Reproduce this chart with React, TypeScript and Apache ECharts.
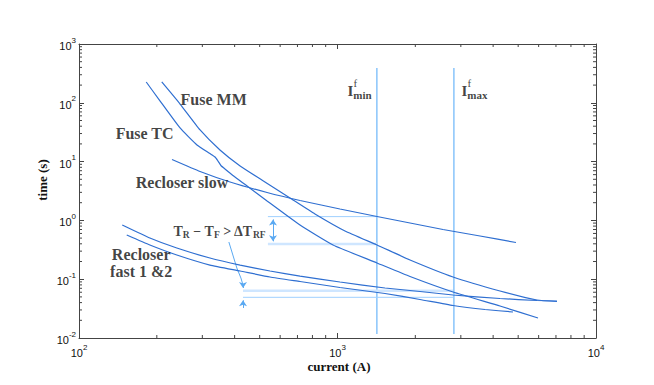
import React, { useEffect, useRef } from "react";
import * as echarts from "echarts";

const X_MIN = 100;
const X_MAX = 10000;
const Y_MIN = 0.01;
const Y_MAX = 1000;

// curves: [current (A), time (s)]
const fuseMM = [[209, 226], [246, 95.4], [294, 34.5], [351, 15.75], [420, 8.42], [524, 4.5], [655, 2.4], [818, 1.285], [1069, 0.66], [1422, 0.382], [1908, 0.212], [2798, 0.109], [4252, 0.063], [5913, 0.0443], [7065, 0.0418]];
const fuseTC = [[182, 226], [206, 107], [246, 37.3], [286, 19.2], [321, 13.7], [336, 11.97], [345, 10.2], [354, 8.58], [367, 7.48], [394, 5.8], [447, 3.85], [534, 2.14], [716, 0.835], [961, 0.382], [1422, 0.189], [1908, 0.111], [2798, 0.0606], [4252, 0.035], [5965, 0.0219]];
const recloserSlow = [[229, 10.85], [294, 6.79], [384, 4.5], [534, 2.98], [716, 2.18], [1022, 1.563], [1422, 1.165], [1908, 0.903], [2559, 0.7], [3559, 0.543], [4903, 0.421]];
const recloserFast1 = [[147, 0.835], [188, 0.502], [239, 0.339], [321, 0.229], [420, 0.174], [548, 0.138], [716, 0.113], [1022, 0.0896], [1527, 0.0709], [2085, 0.0618], [2798, 0.0539], [4252, 0.047], [5913, 0.0434], [7065, 0.0426]];
const recloserFast2 = [[153, 0.565], [188, 0.382], [239, 0.258], [321, 0.174], [420, 0.138], [548, 0.109], [716, 0.0914], [1022, 0.0723], [1527, 0.0571], [2085, 0.0452], [2798, 0.0357], [3721, 0.0305], [4774, 0.0277]];

// annotations
const iMin = 1420;
const iMax = 2820;
const iLineSpan = [391, 0.0117];
const upperGapX = [538, 1422];
const upperGapT = [1.16, 0.397];
const upperArrowX = 563;
const upperArrowT = [1.04, 0.44];
const lowerGapX = [431, 2798];
const lowerGapT = [0.0637, 0.0492];
const lowerArrowX = 431;
const leader = [[380, 0.429], [408, 0.155], [423, 0.1048], [431, 0.0797]];
const downArrowT = [0.0797, 0.071];
const upArrowT = [0.0324, 0.0438];

// label anchors
const fuseMMLabel = [246, 111.6];
const fuseTCLabel = [138, 29.5];
const slowLabel = [165, 4.33];
const fastLabel = [174, 0.185];
const gapLabel = [231, 0.66];
const iMinLabel = [1088, 158.7];
const iMinSup = [1148, 217];
const iMaxLabel = [3005, 158.7];
const iMaxSup = [3170, 217];

const xMinorTicks = [200, 300, 400, 500, 600, 700, 800, 900, 2000, 3000, 4000, 5000, 6000, 7000, 8000, 9000];
const yMinorTicks = [0.02, 0.03, 0.04, 0.05, 0.06, 0.07, 0.08, 0.09, 0.2, 0.3, 0.4, 0.5, 0.6, 0.7, 0.8, 0.9, 2, 3, 4, 5, 6, 7, 8, 9, 20, 30, 40, 50, 60, 70, 80, 90, 200, 300, 400, 500, 600, 700, 800, 900];

const SERIF = "Liberation Serif, serif";
const SANS = "Liberation Sans, sans-serif";
const CURVE = "#2f6fd1";
const VLINE = "#88c4fb";
const HLINE = "#9fd0ff";
const HBAND = "#cfe6ff";
const ARROW = "#5aa9f2";
const AXIS = "#444";
const TEXT = "#111";

const expFormatter = (v: number) => `{b|10}{e|${Math.round(Math.log10(v))}}`;
const tickRich = {
  b: { fontSize: 11, fontFamily: SANS, color: TEXT, lineHeight: 20 },
  e: { fontSize: 8, fontFamily: SANS, color: TEXT, verticalAlign: "top", lineHeight: 8 },
};

const curve = (name: string, data: number[][]) => ({
  type: "line",
  name,
  data,
  showSymbol: false,
  symbol: "none",
  smooth: 0.15,
  lineStyle: { color: CURVE, width: 1.2 },
  silent: true,
  z: 4,
});

const seg = (data: number[][], color: string, width: number) => ({
  type: "line",
  data,
  showSymbol: false,
  symbol: "none",
  lineStyle: { color, width },
  silent: true,
  z: 2,
});

export default function App() {
  const ref = useRef<HTMLDivElement>(null);
  useEffect(() => {
    if (!ref.current) return;
    const chart = echarts.init(ref.current, undefined, { renderer: "svg" });
    const axisCommon = {
      type: "log",
      logBase: 10,
      axisLine: { onZero: false, lineStyle: { color: AXIS, width: 1 } },
      axisTick: { inside: true, length: 5, lineStyle: { color: AXIS } },
      splitLine: { show: false },
    };
    const option = {
      animation: false,
      backgroundColor: "#fff",
      grid: { left: 79, right: 58, top: 44, bottom: 47, containLabel: false },
      xAxis: [
        { ...axisCommon, min: X_MIN, max: X_MAX, position: "bottom", axisLabel: { formatter: expFormatter, rich: tickRich, margin: 5 } },
        { ...axisCommon, min: X_MIN, max: X_MAX, position: "top", axisLabel: { show: false } },
      ],
      yAxis: [
        { ...axisCommon, min: Y_MIN, max: Y_MAX, position: "left", axisLabel: { formatter: expFormatter, rich: tickRich, margin: 3, padding: [4, 0, 0, 0] } },
        { ...axisCommon, min: Y_MIN, max: Y_MAX, position: "right", axisLabel: { show: false } },
      ],
      graphic: [
        { type: "text", x: 339, y: 366, style: { text: "current (A)", fontFamily: SERIF, fontWeight: "bold", fontSize: 13, fill: TEXT, align: "center", verticalAlign: "middle", textAlign: "center", textVerticalAlign: "middle" } },
        { type: "text", x: 42, y: 180, rotation: Math.PI / 2, style: { text: "time (s)", fontFamily: SERIF, fontWeight: "bold", fontSize: 13, fill: TEXT, align: "center", verticalAlign: "middle", textAlign: "center", textVerticalAlign: "middle" } },
      ],
      series: [
        seg([[iMin, iLineSpan[0]], [iMin, iLineSpan[1]]], VLINE, 1.5),
        seg([[iMax, iLineSpan[0]], [iMax, iLineSpan[1]]], VLINE, 1.5),
        seg([[upperGapX[0], upperGapT[0]], [upperGapX[1], upperGapT[0]]], HLINE, 1),
        seg([[upperGapX[0], upperGapT[1]], [upperGapX[1], upperGapT[1]]], HBAND, 2.5),
        seg([[lowerGapX[0], lowerGapT[0]], [lowerGapX[1], lowerGapT[0]]], HBAND, 2.5),
        seg([[lowerGapX[0], lowerGapT[1]], [lowerGapX[1], lowerGapT[1]]], HLINE, 1),
        curve("Fuse MM", fuseMM),
        curve("Fuse TC", fuseTC),
        curve("Recloser slow", recloserSlow),
        curve("Recloser fast 1", recloserFast1),
        curve("Recloser fast 2", recloserFast2),
        {
          type: "lines",
          coordinateSystem: "cartesian2d",
          polyline: true,
          silent: true,
          z: 3,
          lineStyle: { color: ARROW, width: 1, opacity: 1 },
          data: [{ coords: leader }],
        },
        {
          type: "lines",
          coordinateSystem: "cartesian2d",
          silent: true,
          z: 3,
          symbol: ["arrow", "arrow"],
          symbolSize: 6,
          lineStyle: { color: ARROW, width: 1, opacity: 1 },
          data: [{ coords: [[upperArrowX, upperArrowT[0]], [upperArrowX, upperArrowT[1]]] }],
        },
        {
          type: "lines",
          coordinateSystem: "cartesian2d",
          silent: true,
          z: 3,
          symbol: ["none", "arrow"],
          symbolSize: 6,
          lineStyle: { color: ARROW, width: 1, opacity: 1 },
          data: [
            { coords: [[lowerArrowX, downArrowT[0]], [lowerArrowX, downArrowT[1]]] },
            { coords: [[lowerArrowX, upArrowT[0]], [lowerArrowX, upArrowT[1]]] },
          ],
        },
        {
          type: "custom",
          silent: true,
          clip: false,
          z: 6,
          data: [
            ...xMinorTicks.map((v) => [v, Y_MIN, 0]),
            ...yMinorTicks.map((v) => [X_MIN, v, 1]),
          ],
          renderItem: (_p: any, api: any) => {
            const kind = api.value(2);
            const style = { stroke: AXIS, lineWidth: 1 };
            if (kind === 0) {
              const v = api.value(0);
              const b = api.coord([v, Y_MIN]);
              const t = api.coord([v, Y_MAX]);
              return {
                type: "group",
                children: [
                  { type: "line", shape: { x1: b[0], y1: b[1], x2: b[0], y2: b[1] - 3 }, style },
                  { type: "line", shape: { x1: t[0], y1: t[1], x2: t[0], y2: t[1] + 3 }, style },
                ],
              };
            }
            const v = api.value(1);
            const l = api.coord([X_MIN, v]);
            const r = api.coord([X_MAX, v]);
            return {
              type: "group",
              children: [
                { type: "line", shape: { x1: l[0], y1: l[1], x2: l[0] + 3, y2: l[1] }, style },
                { type: "line", shape: { x1: r[0], y1: r[1], x2: r[0] - 3, y2: r[1] }, style },
              ],
            };
          },
        },
        {
          type: "scatter",
          symbolSize: 1,
          itemStyle: { color: "transparent" },
          silent: true,
          z: 7,
          label: {
            show: true,
            position: "right",
            distance: 0,
            color: TEXT,
            fontFamily: SERIF,
            fontWeight: "bold",
            fontSize: 16,
            formatter: (p: any) => p.name,
          },
          data: [
            { name: "Fuse MM", value: fuseMMLabel },
            { name: "Fuse TC", value: fuseTCLabel },
            { name: "Recloser slow", value: slowLabel },
            { name: "Recloser\nfast 1 &2", value: fastLabel, label: { position: "inside", align: "center", lineHeight: 17 } },
            {
              name: "gap",
              value: gapLabel,
              label: {
                formatter: "{m|T}{s|R}{m| \u2212 T}{s|F}{m| > \u0394T}{s|RF}",
                rich: {
                  m: { fontFamily: SERIF, fontSize: 14, color: TEXT, lineHeight: 18 },
                  s: { fontFamily: SERIF, fontSize: 9.5, color: TEXT, lineHeight: 9, verticalAlign: "bottom" },
                },
              },
            },
            {
              name: "imin",
              value: iMinLabel,
              label: {
                formatter: "{m|I}{s|min}",
                rich: {
                  m: { fontFamily: SERIF, fontSize: 15, color: TEXT, lineHeight: 18 },
                  s: { fontFamily: SERIF, fontSize: 11, color: TEXT, lineHeight: 10, verticalAlign: "bottom" },
                },
              },
            },
            { name: "f", value: iMinSup, label: { fontWeight: "normal", fontSize: 11 } },
            {
              name: "imax",
              value: iMaxLabel,
              label: {
                formatter: "{m|I}{s|max}",
                rich: {
                  m: { fontFamily: SERIF, fontSize: 15, color: TEXT, lineHeight: 18 },
                  s: { fontFamily: SERIF, fontSize: 11, color: TEXT, lineHeight: 10, verticalAlign: "bottom" },
                },
              },
            },
            { name: "f", value: iMaxSup, label: { fontWeight: "normal", fontSize: 11 } },
          ],
        },
      ],
    };
    chart.setOption(option as any);
    return () => chart.dispose();
  }, []);
  return <div ref={ref} style={{ position: "fixed", left: 0, top: 0, width: 654, height: 385 }} />;
}
